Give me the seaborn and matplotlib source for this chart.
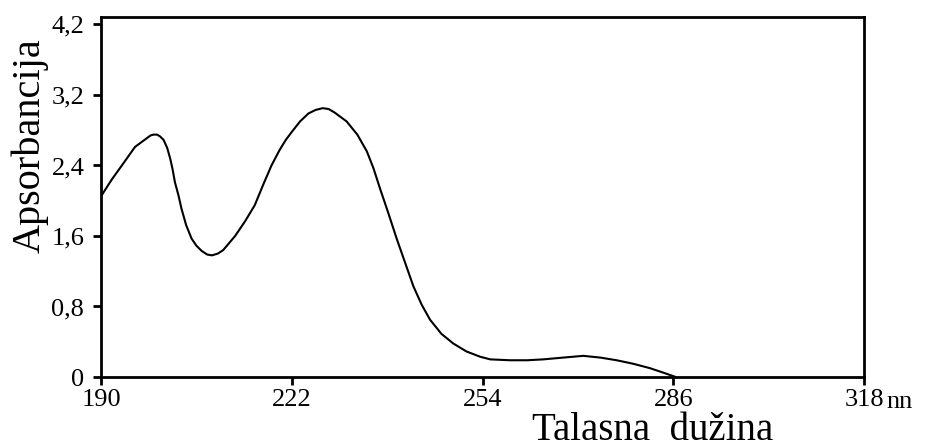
import matplotlib
matplotlib.use("Agg")
import matplotlib.pyplot as plt
import seaborn as sns
import pandas as pd

# Data
wavelength = [190.1, 191.8, 193.5, 195.7, 197.5, 198.3, 198.8, 199.4, 199.9, 200.5,
              201.1, 201.6, 202.0, 202.4, 203.0, 203.5, 204.3, 205.2, 206.0, 206.9,
              207.8, 208.6, 209.6, 210.5, 212.5, 214.2, 215.8, 217.2, 218.6, 220.0,
              221.0, 222.0, 223.4, 224.8, 226.0, 227.2, 228.2, 229.2, 231.2, 233.0,
              234.6, 235.7, 236.8, 238.2, 239.6, 241.0, 242.4, 243.8, 245.2, 247.1,
              249.1, 251.3, 253.6, 255.3, 258.6, 261.5, 264.2, 267.5, 270.9, 273.8,
              276.5, 279.3, 282.1, 284.3, 286.0, 286.4]
absorbance = [2.06, 2.24, 2.40, 2.61, 2.70, 2.74, 2.75, 2.75, 2.73, 2.69,
              2.60, 2.48, 2.36, 2.21, 2.06, 1.91, 1.72, 1.57, 1.49, 1.43,
              1.39, 1.38, 1.40, 1.44, 1.60, 1.77, 1.95, 2.18, 2.40, 2.58,
              2.69, 2.78, 2.90, 2.99, 3.03, 3.05, 3.04, 3.00, 2.90, 2.75,
              2.56, 2.37, 2.14, 1.86, 1.57, 1.30, 1.03, 0.82, 0.65, 0.49,
              0.38, 0.29, 0.23, 0.20, 0.19, 0.19, 0.20, 0.22, 0.24, 0.22,
              0.19, 0.15, 0.10, 0.05, 0.01, 0.0]

x_ticks = [190, 222, 254, 286, 318]
x_tick_labels = ["190", "222", "254", "286", "318"]
y_ticks = [0, 0.8, 1.6, 2.4, 3.2, 4.0]
y_tick_labels = ["0", "0,8", "1,6", "2,4", "3,2", "4,2"]

sns.set_style("ticks")
plt.rcParams["font.family"] = ["Liberation Serif", "DejaVu Serif"]
plt.rcParams["text.color"] = "black"

fig = plt.figure(figsize=(9.25, 4.47), dpi=100)
ax = fig.add_axes([101 / 925, 1 - 377 / 447, (864 - 101) / 925, (377 - 16.5) / 447])

df = pd.DataFrame({"wavelength": wavelength, "absorbance": absorbance})
sns.lineplot(data=df, x="wavelength", y="absorbance", ax=ax, color="black",
             linewidth=1.5, sort=False)

ax.set_xlim(190, 318)
ax.set_ylim(0, 4.09)
ax.set_xticks(x_ticks)
ax.set_xticklabels(x_tick_labels)
ax.set_yticks(y_ticks)
ax.set_yticklabels(y_tick_labels)
ax.set_xlabel("")
ax.set_ylabel("")

for s in ax.spines.values():
    s.set_linewidth(2.0)
    s.set_color("black")
    s.set_visible(True)

ax.tick_params(axis="x", direction="out", length=6, width=2, pad=3,
               labelsize=19, colors="black")
ax.tick_params(axis="y", direction="out", length=6, width=2, pad=6,
               labelsize=19, colors="black")

fig.text(886 / 925, 1 - 402 / 447, "nn", fontsize=19, ha="left", va="center",
         color="black")
fig.text(653 / 925, 1 - 430 / 447, "Talasna  dužina", fontsize=28,
         ha="center", va="center", color="black")
fig.text(30 / 925, 1 - 146 / 447, "Apsorbancija", fontsize=29,
         ha="center", va="center", rotation=90, color="black")

fig.savefig("out.png", dpi=100, facecolor="white")
